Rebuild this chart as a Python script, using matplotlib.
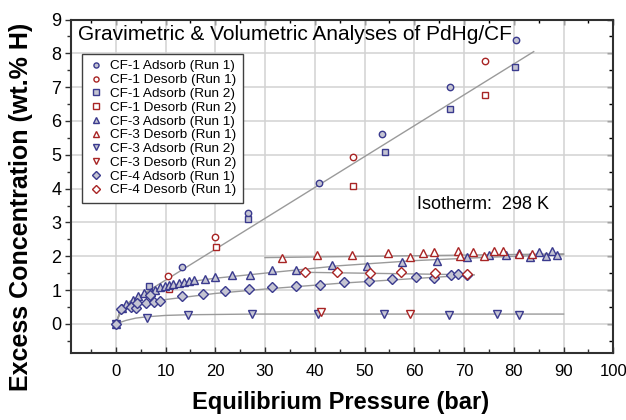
import numpy as np
import matplotlib; matplotlib.use('Agg')
import matplotlib.pyplot as plt
from matplotlib.ticker import MultipleLocator

plt.rcParams['font.family'] = ['Liberation Sans', 'DejaVu Sans']

# ── data (pressure in bar, H in wt.%) ──
cf1_ads1_x = [0, 13.3, 26.5, 40.8, 53.6, 67.1, 80.5]
cf1_ads1_y = [0, 1.68, 3.27, 4.18, 5.62, 7.00, 8.38]
cf1_des1_x = [10.4, 19.9, 47.6, 74.3]
cf1_des1_y = [1.41, 2.56, 4.94, 7.76]
cf1_ads2_x = [0, 6.6, 26.5, 54.2, 67.1, 80.3]
cf1_ads2_y = [0, 1.12, 3.09, 5.09, 6.35, 7.59]
cf1_des2_x = [10.6, 20.1, 47.6, 74.3]
cf1_des2_y = [1.03, 2.27, 4.09, 6.77]

cf3_ads1_x = [0, 1.2, 2.1, 3.4, 4.4, 5.7, 7.0, 7.8, 8.8, 9.8, 10.7, 11.6, 12.7,
              13.7, 14.7, 15.7, 17.9, 19.9, 23.3, 26.9, 31.5, 36.3, 43.4, 50.5,
              57.6, 64.6, 70.5, 75.0, 78.4, 81.1, 83.3, 85.0, 86.5, 87.6, 88.7]
cf3_ads1_y = [0, 0.47, 0.59, 0.71, 0.83, 0.90, 0.95, 1.00, 1.08, 1.12, 1.15, 1.18,
              1.22, 1.25, 1.27, 1.29, 1.32, 1.39, 1.45, 1.45, 1.59, 1.59, 1.73,
              1.71, 1.83, 1.86, 1.97, 2.04, 2.04, 2.11, 1.97, 2.14, 2.00, 2.16, 2.03]
cf3_des1_x = [33.5, 40.4, 47.5, 54.7, 59.2, 61.8, 64.0, 68.8, 69.1, 71.7, 74.0,
              76.1, 77.9, 81.0, 83.7]
cf3_des1_y = [1.96, 2.05, 2.05, 2.10, 1.97, 2.11, 2.12, 2.15, 2.02, 2.12, 2.00,
              2.15, 2.16, 2.08, 2.06]
cf3_ads2_x = [0, 6.3, 14.5, 27.4, 40.7, 53.9, 66.9, 76.6, 81.1]
cf3_ads2_y = [0, 0.17, 0.25, 0.29, 0.29, 0.29, 0.27, 0.29, 0.27]
cf3_des2_x = [41.3, 59.2]
cf3_des2_y = [0.34, 0.29]

cf4_ads1_x = [0, 1.1, 3.0, 4.0, 4.3, 6.0, 6.8, 7.6, 8.8, 13.3, 17.5, 21.9, 26.7,
              31.5, 36.3, 41.1, 45.9, 50.8, 55.6, 60.4, 64.0, 67.3, 68.7, 70.6]
cf4_ads1_y = [0, 0.43, 0.51, 0.48, 0.61, 0.61, 0.84, 0.64, 0.69, 0.82, 0.88, 0.96,
              1.02, 1.08, 1.12, 1.16, 1.25, 1.27, 1.33, 1.40, 1.37, 1.44, 1.48, 1.46]
cf4_des1_x = [38.1, 44.4, 51.0, 57.4, 64.1, 70.6]
cf4_des1_y = [1.52, 1.52, 1.51, 1.53, 1.51, 1.47]

# fitted trend lines (gray)
fit_cf1_x = [0, 1, 3.5, 84]
fit_cf1_y = [0, 0.40, 0.70, 8.05]
fit_cf3a_x = [0, 1, 3, 6, 10, 15, 20, 30, 45, 60, 75, 90]
fit_cf3a_y = [0, 0.45, 0.68, 0.90, 1.10, 1.25, 1.35, 1.50, 1.72, 1.87, 1.97, 2.05]
fit_cf3d_x = [30, 90]
fit_cf3d_y = [1.96, 2.07]
fit_cf3r2_x = [0, 2, 4, 6.3, 10, 14.5, 27.6, 90]
fit_cf3r2_y = [0, 0.10, 0.17, 0.21, 0.25, 0.27, 0.29, 0.29]
fit_cf4a_x = [0, 1, 3, 6, 10, 20, 30, 45, 60, 72]
fit_cf4a_y = [0, 0.35, 0.50, 0.62, 0.72, 0.90, 1.03, 1.20, 1.34, 1.45]
fit_cf4d_x = [35.7, 72]
fit_cf4d_y = [1.53, 1.45]

BLUE = '#3a3a8e'
BLUE_FILL = '#c4c4d2'
RED = '#a82424'
RED_FILL = 'white'
LINE = '#9a9a9a'

fig = plt.figure(figsize=(6.26, 4.20), dpi=100)
ax = fig.add_axes([71 / 626, 1 - 353.3 / 420, 542.3 / 626, 333.8 / 420])

for fx, fy in [(fit_cf1_x, fit_cf1_y), (fit_cf3a_x, fit_cf3a_y),
               (fit_cf3d_x, fit_cf3d_y), (fit_cf3r2_x, fit_cf3r2_y),
               (fit_cf4a_x, fit_cf4a_y), (fit_cf4d_x, fit_cf4d_y)]:
    ax.plot(fx, fy, color=LINE, lw=1.0, zorder=2)

series = [
    (cf1_ads1_x, cf1_ads1_y, 'o', 4.6, 'CF-1 Adsorb (Run 1)', BLUE, BLUE_FILL),
    (cf1_des1_x, cf1_des1_y, 'o', 4.6, 'CF-1 Desorb (Run 1)', RED, RED_FILL),
    (cf1_ads2_x, cf1_ads2_y, 's', 4.6, 'CF-1 Adsorb (Run 2)', BLUE, BLUE_FILL),
    (cf1_des2_x, cf1_des2_y, 's', 4.6, 'CF-1 Desorb (Run 2)', RED, RED_FILL),
    (cf3_ads1_x, cf3_ads1_y, '^', 5.6, 'CF-3 Adsorb (Run 1)', BLUE, BLUE_FILL),
    (cf3_des1_x, cf3_des1_y, '^', 5.6, 'CF-3 Desorb (Run 1)', RED, RED_FILL),
    (cf3_ads2_x, cf3_ads2_y, 'v', 5.6, 'CF-3 Adsorb (Run 2)', BLUE, BLUE_FILL),
    (cf3_des2_x, cf3_des2_y, 'v', 5.6, 'CF-3 Desorb (Run 2)', RED, RED_FILL),
    (cf4_ads1_x, cf4_ads1_y, 'D', 4.8, 'CF-4 Adsorb (Run 1)', BLUE, BLUE_FILL),
    (cf4_des1_x, cf4_des1_y, 'D', 4.8, 'CF-4 Desorb (Run 1)', RED, RED_FILL),
]
for x, y, m, ms, lab, ec, fc in series:
    ax.plot(x, y, ls='none', marker=m, ms=ms, mec=ec, mfc=fc, mew=1.0,
            label=lab, zorder=3, clip_on=False)

ax.set_xlim(-9, 100)
ax.set_ylim(-0.87, 9)
ax.xaxis.set_major_locator(MultipleLocator(10))
ax.xaxis.set_minor_locator(MultipleLocator(5))
ax.yaxis.set_major_locator(MultipleLocator(1))
ax.yaxis.set_minor_locator(MultipleLocator(0.5))
ax.set_xticks(np.arange(0, 101, 10))
ax.grid(True, which='major', color='#d2d2d2', lw=1.1, zorder=0)
ax.set_axisbelow(True)

for sp in ax.spines.values():
    sp.set_linewidth(1.5)
    sp.set_color('#303030')

ax.tick_params(axis='x', which='both', direction='in', labelsize=12, pad=8,
               color='#303030')
ax.tick_params(axis='x', which='major', length=4, width=1)
ax.tick_params(axis='x', which='minor', length=3, width=1)
ax.tick_params(axis='y', which='both', direction='out', labelsize=13, pad=3,
               color='#303030')
ax.tick_params(axis='y', which='major', length=4, width=1)
ax.tick_params(axis='y', which='minor', length=3, width=1)

# inward ticks on the top and right edges, no labels
top = ax.secondary_xaxis('top')
top.xaxis.set_major_locator(MultipleLocator(10))
top.xaxis.set_minor_locator(MultipleLocator(5))
top.tick_params(which='both', direction='in', labeltop=False, width=1)
top.tick_params(which='major', length=4)
top.tick_params(which='minor', length=3)
top.spines['top'].set_visible(False)
right = ax.secondary_yaxis('right')
right.yaxis.set_major_locator(MultipleLocator(1))
right.yaxis.set_minor_locator(MultipleLocator(0.5))
right.tick_params(which='both', direction='in', labelright=False, width=1)
right.tick_params(which='major', length=4)
right.tick_params(which='minor', length=3)
right.spines['right'].set_visible(False)

ax.text(0.013, 0.9386, 'Gravimetric & Volumetric Analyses of PdHg/CF',
        transform=ax.transAxes, fontsize=15, ha='left', va='baseline')
ax.text(0.6375, 0.432, 'Isotherm:  298 K', transform=ax.transAxes,
        fontsize=13, ha='left', va='baseline')

leg = ax.legend(loc='upper left', bbox_to_anchor=(0.0203, 0.8967),
                borderaxespad=0, fontsize=9.7, frameon=True, fancybox=False,
                edgecolor='#404040', framealpha=1, labelspacing=0.1,
                handlelength=1.2, handletextpad=0.45, borderpad=0.45,
                markerscale=0.8)
leg.get_frame().set_linewidth(1.0)

fig.text(341 / 626, 1 - 402 / 420, 'Equilibrium Pressure (bar)', fontsize=17,
         fontweight='bold', ha='center', va='center')
fig.text(21 / 626, 1 - 207 / 420, 'Excess Concentration (wt.% H)', fontsize=18,
         fontweight='bold', ha='center', va='center', rotation=90)

fig.savefig('out.png', dpi=100)
